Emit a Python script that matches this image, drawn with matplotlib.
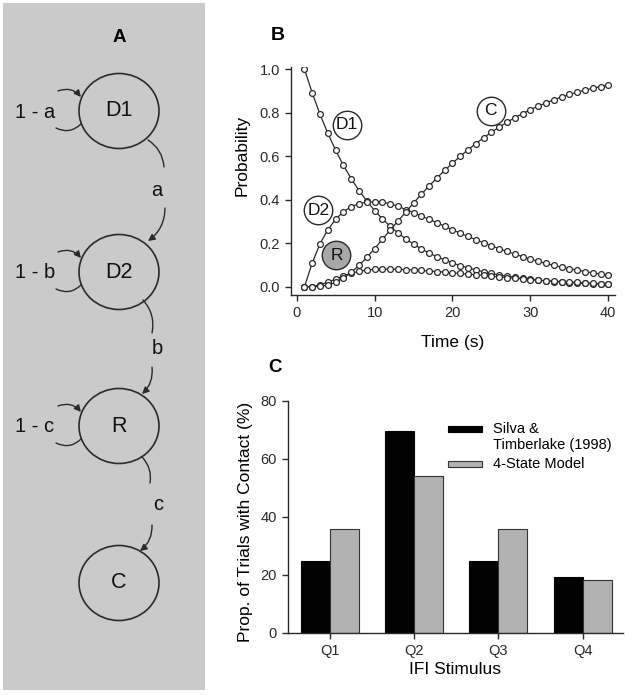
import matplotlib
matplotlib.use('Agg')
import matplotlib.pyplot as plt
import numpy as np
from matplotlib.patches import Ellipse, Rectangle, FancyArrowPatch

plt.rcParams['font.family'] = ['Liberation Sans', 'DejaVu Sans']

# ---------------- data ----------------
time_s = list(range(1, 41))
d1 = [1.0, 0.89, 0.792, 0.705, 0.627, 0.558, 0.497, 0.442, 0.394, 0.350,
      0.312, 0.278, 0.247, 0.220, 0.196, 0.174, 0.155, 0.138, 0.123, 0.109,
      0.097, 0.087, 0.077, 0.069, 0.061, 0.054, 0.048, 0.043, 0.038, 0.034,
      0.030, 0.027, 0.024, 0.021, 0.019, 0.017, 0.015, 0.013, 0.012, 0.011]
d2 = [0.0, 0.11, 0.198, 0.262, 0.31, 0.345, 0.368, 0.382, 0.389, 0.39,
      0.388, 0.382, 0.37, 0.355, 0.34, 0.325, 0.31, 0.294, 0.278, 0.262,
      0.246, 0.231, 0.216, 0.202, 0.188, 0.175, 0.162, 0.15, 0.138, 0.127,
      0.117, 0.107, 0.098, 0.09, 0.083, 0.076, 0.07, 0.064, 0.058, 0.053]
r_state = [0.0, 0.0, 0.009, 0.021, 0.035, 0.05, 0.062, 0.071, 0.077, 0.08,
           0.081, 0.081, 0.08, 0.079, 0.077, 0.075, 0.072, 0.07, 0.067, 0.064,
           0.061, 0.058, 0.055, 0.052, 0.049, 0.045, 0.042, 0.039, 0.036, 0.033,
           0.03, 0.028, 0.026, 0.024, 0.022, 0.02, 0.018, 0.016, 0.014, 0.013]
c_state = [0.0, 0.0, 0.002, 0.007, 0.02, 0.04, 0.066, 0.098, 0.135, 0.175,
           0.218, 0.26, 0.302, 0.343, 0.385, 0.425, 0.463, 0.5, 0.535, 0.568,
           0.6, 0.63, 0.658, 0.685, 0.71, 0.734, 0.756, 0.777, 0.796, 0.814,
           0.83, 0.845, 0.859, 0.872, 0.884, 0.894, 0.904, 0.912, 0.92, 0.927]

curve_labels = ['D1', 'D2', 'R', 'C']
curve_label_pos = [(6.4, 0.745), (2.8, 0.352), (5.1, 0.145), (24.9, 0.81)]
curve_label_fill = ['white', 'white', '#a8a8a8', 'white']

quartiles = ['Q1', 'Q2', 'Q3', 'Q4']
silva = [24.7, 69.5, 24.7, 19.3]
model4 = [36.0, 54.2, 36.0, 18.4]
legend_lines = ['Silva &', 'Timberlake (1998)', '4-State Model']

state_names = ['D1', 'D2', 'R', 'C']
loop_labels = ['1 - a', '1 - b', '1 - c']
trans_labels = ['a', 'b', 'c']

# ---------------- figure ----------------
W, H = 625, 695
fig = plt.figure(figsize=(W / 100, H / 100), dpi=100)

# Panel A: diagram in pixel coordinates
ax0 = fig.add_axes([0, 0, 1, 1], zorder=0)
ax0.set_xlim(0, W)
ax0.set_ylim(H, 0)
ax0.axis('off')
ax0.add_patch(Rectangle((3, 3), 202, 687, facecolor='#cacaca', edgecolor='none'))
ax0.text(119, 37, 'A', fontsize=13.5, fontweight='bold', ha='center', va='center')

ink = '#2a2a2a'
cx = 119
state_y = [111, 272, 426, 583]
for name, y in zip(state_names, state_y):
    ax0.add_patch(Ellipse((cx, y), 80, 75, facecolor='none', edgecolor=ink, lw=1.2))
    ax0.text(cx, y, name, fontsize=15.5, ha='center', va='center', color='#111')

for lab, y in zip(loop_labels, state_y[:3]):
    a1 = FancyArrowPatch((58, y - 20), (81, y - 14), connectionstyle='arc3,rad=-0.35',
                         arrowstyle='-|>,head_length=4,head_width=2', color=ink, lw=1.0,
                         shrinkA=0, shrinkB=0)
    ax0.add_patch(a1)
    a2 = FancyArrowPatch((81, y + 13), (56, y + 17), connectionstyle='arc3,rad=-0.35',
                         arrowstyle='-', color=ink, lw=1.0, shrinkA=0, shrinkB=0)
    ax0.add_patch(a2)
    ax0.text(35, y + 1, lab, fontsize=14.5, ha='center', va='center', color='#111')

trans_geom = [((148, 140), (164, 167), (157, 190), (165, 208), (148, 241)),
              ((143, 300), (152, 333), (157, 349), (152, 367), (142, 394)),
              ((142, 457), (150, 483), (158, 505), (152, 525), (140, 551))]
for lab, (p0, p1, pt, q0, q1) in zip(trans_labels, trans_geom):
    ax0.add_patch(FancyArrowPatch(p0, p1, connectionstyle='arc3,rad=-0.25',
                                  arrowstyle='-', color=ink, lw=1.0, shrinkA=0, shrinkB=0))
    ax0.text(pt[0], pt[1], lab, fontsize=14.5, ha='center', va='center', color='#111')
    ax0.add_patch(FancyArrowPatch(q0, q1, connectionstyle='arc3,rad=-0.25',
                                  arrowstyle='-|>,head_length=4,head_width=2', color=ink,
                                  lw=1.0, shrinkA=0, shrinkB=0))

# Panel letters B, C
fig.text(278 / W, 1 - 36 / H, 'B', fontsize=14, fontweight='bold', ha='center', va='center')
fig.text(275 / W, 1 - 367 / H, 'C', fontsize=13.5, fontweight='bold', ha='center', va='center')

# Panel B
axB = fig.add_axes([291 / W, (H - 295) / H, 324 / W, 228 / H], zorder=2)
for series in [d1, d2, r_state, c_state]:
    axB.plot(time_s, series, '-', color=ink, lw=0.9, marker='o', ms=4.2,
             mfc='white', mec=ink, mew=0.9, zorder=3)
for lab, (lx, ly), fc in zip(curve_labels, curve_label_pos, curve_label_fill):
    axB.plot([lx], [ly], marker='o', ms=20.5, mfc=fc, mec=ink, mew=1.0, zorder=4)
    axB.text(lx, ly, lab, fontsize=12.5, ha='center', va='center', zorder=5, color='#111')
axB.set_xlim(-0.73, 40.86)
axB.set_ylim(-0.038, 1.01)
axB.set_xticks([0, 10, 20, 30, 40])
axB.set_yticks([0.0, 0.2, 0.4, 0.6, 0.8, 1.0])
axB.set_yticklabels(['0.0', '0.2', '0.4', '0.6', '0.8', '1.0'])
for s in ['top', 'right']:
    axB.spines[s].set_visible(False)
for s in ['left', 'bottom']:
    axB.spines[s].set_linewidth(1.0)
    axB.spines[s].set_color(ink)
axB.tick_params(direction='out', length=4, width=1.0, labelsize=10.5, colors=ink, pad=4)
axB.set_xlabel('Time (s)', fontsize=12.5)
axB.set_ylabel('Probability', fontsize=12.5)
axB.xaxis.set_label_coords(0.5, -0.175)
axB.yaxis.set_label_coords(-0.127, 0.61)
axB.patch.set_alpha(0)

# Panel C
axC = fig.add_axes([288 / W, (H - 633) / H, 335 / W, 232 / H], zorder=2)
x = np.arange(len(quartiles))
w = 0.344
axC.bar(x - w / 2, silva, w, color='black', edgecolor='black', lw=0.8)
axC.bar(x + w / 2, model4, w, color='#b2b2b2', edgecolor='#333333', lw=0.8)
axC.set_xlim(-0.5, 3.48)
axC.set_ylim(0, 80)
axC.set_xticks(x)
axC.set_xticklabels(quartiles)
axC.set_yticks([0, 20, 40, 60, 80])
for s in ['top', 'right']:
    axC.spines[s].set_visible(False)
for s in ['left', 'bottom']:
    axC.spines[s].set_linewidth(1.0)
    axC.spines[s].set_color(ink)
axC.tick_params(direction='out', length=4, width=1.0, labelsize=10.5, colors=ink, pad=4)
axC.set_xlabel('IFI Stimulus', fontsize=12.5)
axC.set_ylabel('Prop. of Trials with Contact (%)', fontsize=12.5)
axC.xaxis.set_label_coords(0.4985, -0.125)
axC.yaxis.set_label_coords(-0.104, 0.478)
axC.patch.set_alpha(0)

# manual legend
axC.add_patch(Rectangle((0.478, 0.866), 0.1015, 0.027, transform=axC.transAxes,
                        facecolor='black', edgecolor='black', lw=0.8, clip_on=False))
axC.add_patch(Rectangle((0.478, 0.715), 0.1015, 0.027, transform=axC.transAxes,
                        facecolor='#b2b2b2', edgecolor='#333333', lw=0.8, clip_on=False))
for txt, ty in zip(legend_lines, [0.879, 0.810, 0.728]):
    axC.text(0.612, ty, txt, transform=axC.transAxes, fontsize=10.5,
             ha='left', va='center')

fig.savefig('out.png', dpi=100)
